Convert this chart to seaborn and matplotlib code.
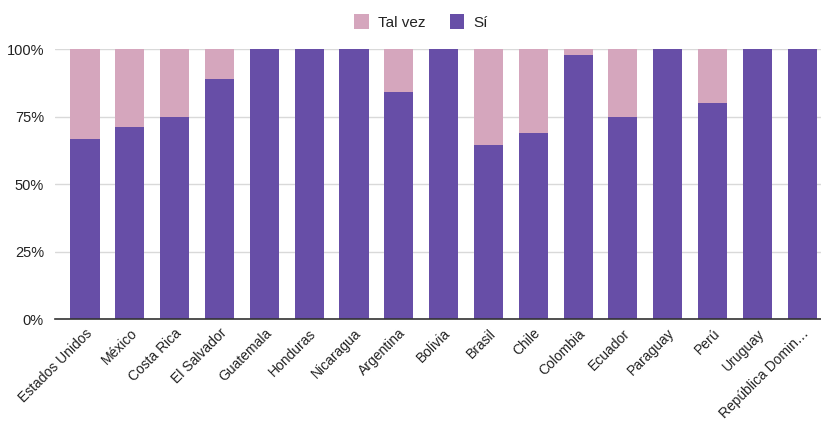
import matplotlib
matplotlib.use("Agg")
import matplotlib.pyplot as plt
from matplotlib.patches import Patch
from matplotlib.ticker import FuncFormatter
import seaborn as sns
import pandas as pd

paises = ["Estados Unidos", "México", "Costa Rica", "El Salvador", "Guatemala",
          "Honduras", "Nicaragua", "Argentina", "Bolivia", "Brasil", "Chile",
          "Colombia", "Ecuador", "Paraguay", "Perú", "Uruguay", "República Domin…"]
si = [66.7, 71, 75, 89, 100, 100, 100, 84, 100, 64.5, 69, 97.8, 75, 100, 80, 100, 100]
tal_vez = [33.3, 29, 25, 11, 0, 0, 0, 16, 0, 35.5, 31, 2.2, 25, 0, 20, 0, 0]

color_si = "#674ea7"
color_tal = "#d5a6bd"

df = pd.DataFrame({"pais": paises, "si": si, "tal_vez": tal_vez})
df["total"] = df["si"] + df["tal_vez"]

sns.set_theme(style="white")
plt.rcParams["font.family"] = ["Liberation Sans", "DejaVu Sans"]

fig = plt.figure(figsize=(8.21, 4.23), dpi=100)
ax = fig.add_axes([55 / 821, 1 - 319.3 / 423, 1 - 55 / 821, (319.3 - 49) / 423])

# stacked bars: full height in pink, "Sí" portion drawn over it
sns.barplot(data=df, x="pais", y="total", color=color_tal, saturation=1,
            width=0.65, ax=ax, linewidth=0, zorder=2)
sns.barplot(data=df, x="pais", y="si", color=color_si, saturation=1,
            width=0.65, ax=ax, linewidth=0, zorder=3)

ax.set_ylim(0, 100)
ax.set_xlim(-0.67, 16.42)
ax.set_yticks([0, 25, 50, 75, 100])
ax.yaxis.set_major_formatter(FuncFormatter(lambda v, p: f"{int(v)}%"))
ax.grid(axis="y", color="#d9d9d9", linewidth=1, zorder=0)
ax.set_axisbelow(True)
for s in ["top", "right", "left"]:
    ax.spines[s].set_visible(False)
ax.spines["bottom"].set_color("#333333")
ax.spines["bottom"].set_linewidth(1.2)
ax.spines["bottom"].set_zorder(4)
ax.set_xlabel("")
ax.set_ylabel("")
ax.tick_params(axis="y", length=0, labelsize=10.5, colors="#222222", pad=8)
ax.tick_params(axis="x", length=0, labelsize=10, colors="#222222", pad=5)
plt.setp(ax.get_xticklabels(), rotation=45, ha="right", rotation_mode="anchor")

handles = [Patch(facecolor=color_tal, edgecolor="none"),
           Patch(facecolor=color_si, edgecolor="none")]
fig.legend(handles, ["Tal vez", "Sí"], loc="upper center",
           bbox_to_anchor=(0.513, 1.0), ncol=2, frameon=False, fontsize=11,
           handlelength=0.95, handleheight=1.2, handletextpad=0.6,
           columnspacing=1.6, labelcolor="#222222")

fig.savefig("out.png", dpi=100)
